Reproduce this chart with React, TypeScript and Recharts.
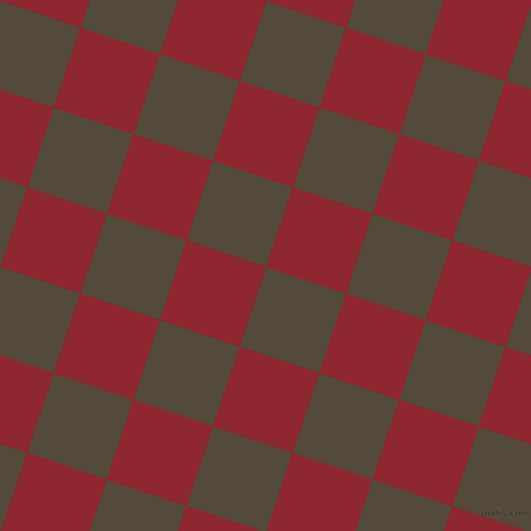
import React from 'react';
import { ScatterChart, Scatter, XAxis, YAxis } from 'recharts';

// centres of the squares (pixel units)
const redX = [53.8, -52.6, 0.6, -52.7, 106.9, 53.7, 0.5, 213.2, 160.0, 106.8, 53.6, 319.5, 266.3, 213.1, 159.9, 372.6, 319.4, 266.2, 213.0, 478.9, 425.7, 372.5, 319.3, 585.2, 532.0, 478.8, 425.6, 585.1, 531.9, 478.7];
const redY = [-25.5, 27.7, 134.0, 293.4, 80.9, 240.3, 399.7, 27.8, 187.2, 346.6, 506.0, -25.4, 134.1, 293.5, 452.9, 81.0, 240.4, 399.8, 559.2, 27.9, 187.3, 346.7, 506.1, -25.3, 134.2, 293.6, 453.0, 240.5, 399.9, 559.3];

const darkX = [-26.0, 27.2, -26.1, 133.5, 80.3, 27.1, -26.2, 239.8, 186.6, 133.4, 80.2, 292.9, 239.7, 186.5, 133.3, 399.2, 346.0, 292.8, 239.6, 505.5, 452.3, 399.1, 345.9, 292.7, 558.6, 505.4, 452.2, 399.0, 558.5, 505.3];
const darkY = [-52.1, 54.3, 213.7, 1.2, 160.6, 320.0, 479.4, -52.0, 107.5, 266.9, 426.3, 54.4, 213.8, 373.2, 532.6, 1.3, 160.7, 320.1, 479.5, -51.9, 107.6, 267.0, 426.4, 585.8, 54.5, 213.9, 373.3, 532.7, 320.2, 479.6];

// one side of a square, as a step along the tilted grid
const stepAlong = [79.7, 26.6];

const redCells = redX.map((x, i) => ({ x, y: redY[i] }));
const darkCells = darkX.map((x, i) => ({ x, y: darkY[i] }));

const RED = '#8f2731';
const DARK = '#544a3a';

const makeSquare = (fill: string) => (props: any) => {
  const { cx, cy } = props;
  const [ux, uy] = stepAlong;
  const hx = ux / 2;
  const hy = uy / 2;
  // perpendicular half step
  const vx = -hy;
  const vy = hx;
  const pts = [
    [cx - hx - vx, cy - hy - vy],
    [cx + hx - vx, cy + hy - vy],
    [cx + hx + vx, cy + hy + vy],
    [cx - hx + vx, cy - hy + vy],
  ]
    .map((p) => p.join(','))
    .join(' ');
  return <polygon points={pts} fill={fill} stroke={fill} strokeWidth={0.4} />;
};

export default function App() {
  return (
    <div style={{ position: 'fixed', left: 0, top: 0, width: 531, height: 531, background: DARK }}>
      <ScatterChart width={531} height={531} margin={{ top: 0, right: 0, bottom: 0, left: 0 }}>
        <XAxis type="number" dataKey="x" domain={[0, 531]} allowDataOverflow hide />
        <YAxis type="number" dataKey="y" domain={[0, 531]} allowDataOverflow reversed hide />
        <Scatter data={darkCells} shape={makeSquare(DARK)} isAnimationActive={false} />
        <Scatter data={redCells} shape={makeSquare(RED)} isAnimationActive={false} />
      </ScatterChart>
      <div
        style={{
          position: 'absolute',
          left: 481,
          top: 509,
          fontFamily: 'DejaVu Sans',
          fontSize: 8.5,
          fontWeight: 'bold',
          color: '#3a342b',
          WebkitTextStroke: '0.3px #6a6154',
          lineHeight: 1,
          whiteSpace: 'nowrap',
        }}
      >
        pixlis.com
      </div>
    </div>
  );
}
